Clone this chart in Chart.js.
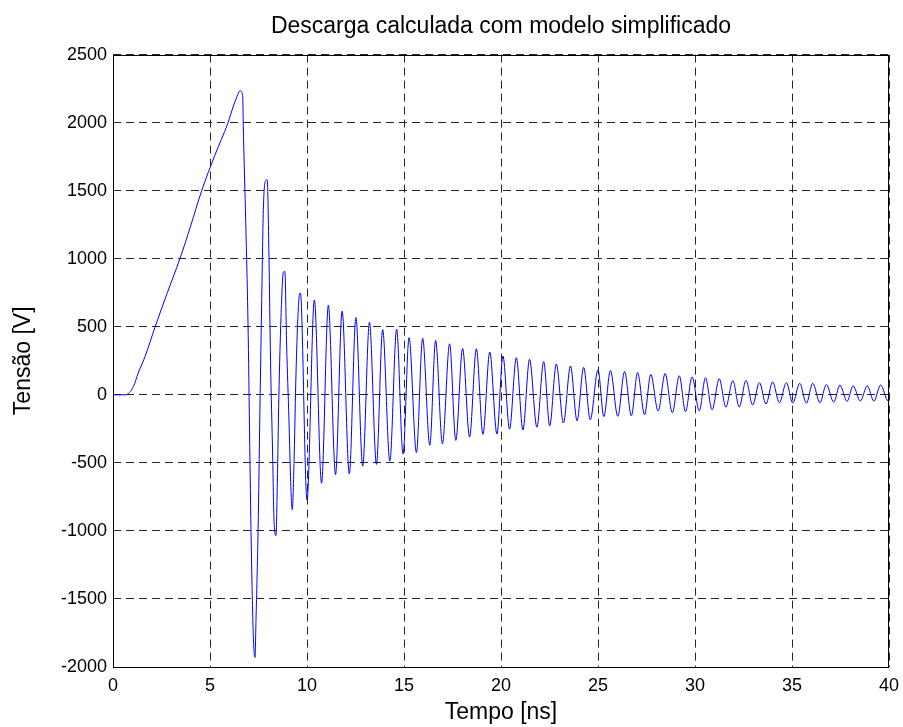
<!DOCTYPE html>
<html>
<head>
<meta charset="utf-8">
<script src="https://cdn.jsdelivr.net/npm/chart.js@4/dist/chart.umd.min.js"></script>
<style>
  html, body { margin: 0; padding: 0; background: #ffffff; }
  #wrap { width: 903px; height: 727px; }
</style>
</head>
<body>
<div id="wrap"><canvas id="c" width="903" height="727"></canvas></div>
<script>
// ---- data ----
// ramp up of the voltage (time in ns, voltage in V)
const riseT = [0, 0.65, 1.05, 1.3, 1.65, 2.16, 2.8, 3.45, 4.0, 4.57, 5.25, 5.93, 6.2, 6.4, 6.55, 6.68];
const riseV = [0, 0, 60, 160, 280, 495, 750, 1000, 1240, 1500, 1760, 2000, 2120, 2195, 2235, 2205];

// first large swings after the breakdown
const swingT = [6.73, 6.84, 6.97, 7.06, 7.15, 7.24, 7.32, 7.37, 7.48, 7.57, 7.66, 7.75, 7.87, 7.95,
                8.04, 8.12, 8.23, 8.3, 8.4, 8.47, 8.55, 8.66, 8.78, 8.86, 8.95, 9.07, 9.16, 9.24,
                9.33, 9.42, 9.52, 9.62, 9.66];
const swingV = [1880, 1280, 435, -490, -1280, -1800, -1930, -1660, -985, -140, 645, 1360, 1575, 1580,
                1010, 255, -450, -925, -1035, -650, -15, 575, 900, 907, 365, -185, -645, -845,
                -505, 85, 535, 745, 748];

// damped ringing: successive troughs and crests
const ringT = [10.0, 10.38, 10.75, 11.1, 11.47, 11.81, 12.18, 12.52, 12.87, 13.22, 13.58, 13.9, 14.27, 14.62,
               14.95, 15.26, 15.64, 15.96, 16.33, 16.63, 16.98, 17.35, 17.67, 18.02, 18.38, 18.73, 19.07, 19.42,
               19.79, 20.1, 20.44, 20.79, 21.13, 21.47, 21.85, 22.2, 22.51, 22.85, 23.22, 23.58, 23.92, 24.26,
               24.6, 25.0, 25.3, 25.64, 26.02, 26.37, 26.72, 27.04, 27.4, 27.72, 28.1, 28.46, 28.83, 29.19,
               29.51, 29.85, 30.22, 30.54, 30.88, 31.25, 31.59, 31.95, 32.28, 32.63, 32.97, 33.32, 33.66, 34.0,
               34.35, 34.71, 35.04, 35.4, 35.74, 36.07, 36.44, 36.77, 37.15, 37.47, 37.84, 38.15, 38.52, 38.88,
               39.22, 39.57, 39.95, 40.0];
const ringV = [-772, 697, -650, 658, -587, 616, -580, 567, -524, 533, -511, 479, -487, 482,
               -435, 420, -425, 416, -370, 400, -360, 375, -335, 341, -310, 338, -290, 315,
               -288, 285, -252, 273, -258, 261, -238, 244, -227, 227, -207, 212, -190, 202,
               -183, 183, -160, 178, -158, 171, -154, 163, -146, 150, -120, 157, -132, 140,
               -124, 132, -118, 125, -110, 118, -90, 105, -90, 106, -75, 90, -68, 95,
               -58, 90, -60, 85, -62, 85, -58, 76, -54, 71, -48, 66, -46, 66,
               -46, 72, -44, -40];

const xTicks = [0, 5, 10, 15, 20, 25, 30, 35, 40];
const yTicks = [-2000, -1500, -1000, -500, 0, 500, 1000, 1500, 2000, 2500];

const titleText = 'Descarga calculada com modelo simplificado';
const xLabel = 'Tempo [ns]';
const yLabel = 'Tensão [V]';

// ---- build the series ----
const allT = riseT.concat(swingT, ringT);
const allV = riseV.concat(swingV, ringV);
const points = allT.map((t, i) => ({ x: t, y: allV[i] }));

const FONT = '"Liberation Sans", Arial, Helvetica, sans-serif';

const framePlugin = {
  id: 'frame',
  afterDraw(chart) {
    const { ctx, chartArea: a } = chart;
    ctx.save();
    ctx.strokeStyle = '#000000';
    ctx.lineWidth = 1;
    ctx.setLineDash([]);
    ctx.strokeRect(Math.round(a.left) + 0.5, Math.round(a.top) + 0.5,
                   Math.round(a.right - a.left) - 1, Math.round(a.bottom - a.top));
    ctx.restore();
  }
};

new Chart(document.getElementById('c'), {
  type: 'line',
  data: {
    datasets: [{
      data: points,
      borderColor: '#0000ff',
      borderWidth: 1,
      pointRadius: 0,
      fill: false,
      cubicInterpolationMode: 'monotone'
    }]
  },
  options: {
    responsive: false,
    animation: false,
    devicePixelRatio: 1,
    layout: { padding: { left: 0, right: 14, top: 0, bottom: 0 } },
    plugins: {
      legend: { display: false },
      tooltip: { enabled: false },
      title: {
        display: true,
        fullSize: false,
        text: titleText,
        color: '#000000',
        font: { family: FONT, size: 23, weight: 'normal', lineHeight: 1.2 },
        padding: { top: 13, bottom: 14 }
      }
    },
    scales: {
      x: {
        type: 'linear',
        min: xTicks[0],
        max: xTicks[xTicks.length - 1],
        afterBuildTicks(scale) { scale.ticks = xTicks.map(v => ({ value: v })); },
        afterFit(scale) { scale.height = 60; scale.paddingLeft = 0; scale.paddingRight = 0; },
        ticks: {
          color: '#000000',
          font: { family: FONT, size: 18 },
          padding: 8,
          maxRotation: 0,
          autoSkip: false,
          callback: (v) => String(v)
        },
        grid: { color: '#262626', lineWidth: 1, drawTicks: false },
        border: { display: false, dash: [8, 5] },
        title: {
          display: true,
          text: xLabel,
          color: '#000000',
          font: { family: FONT, size: 23, lineHeight: 1.2 },
          padding: { top: 0, bottom: 1 }
        }
      },
      y: {
        type: 'linear',
        min: yTicks[0],
        max: yTicks[yTicks.length - 1],
        afterBuildTicks(scale) { scale.ticks = yTicks.map(v => ({ value: v })); },
        afterFit(scale) { scale.width = 113; scale.paddingTop = 0; scale.paddingBottom = 0; },
        ticks: {
          color: '#000000',
          font: { family: FONT, size: 18 },
          padding: 6,
          autoSkip: false,
          callback: (v) => String(v)
        },
        grid: { color: '#262626', lineWidth: 1, drawTicks: false },
        border: { display: false, dash: [8, 5] },
        title: {
          display: true,
          text: yLabel,
          color: '#000000',
          font: { family: FONT, size: 23, lineHeight: 1.2 },
          padding: { top: 10, bottom: 0 }
        }
      }
    }
  },
  plugins: [framePlugin]
});
</script>
</body>
</html>
